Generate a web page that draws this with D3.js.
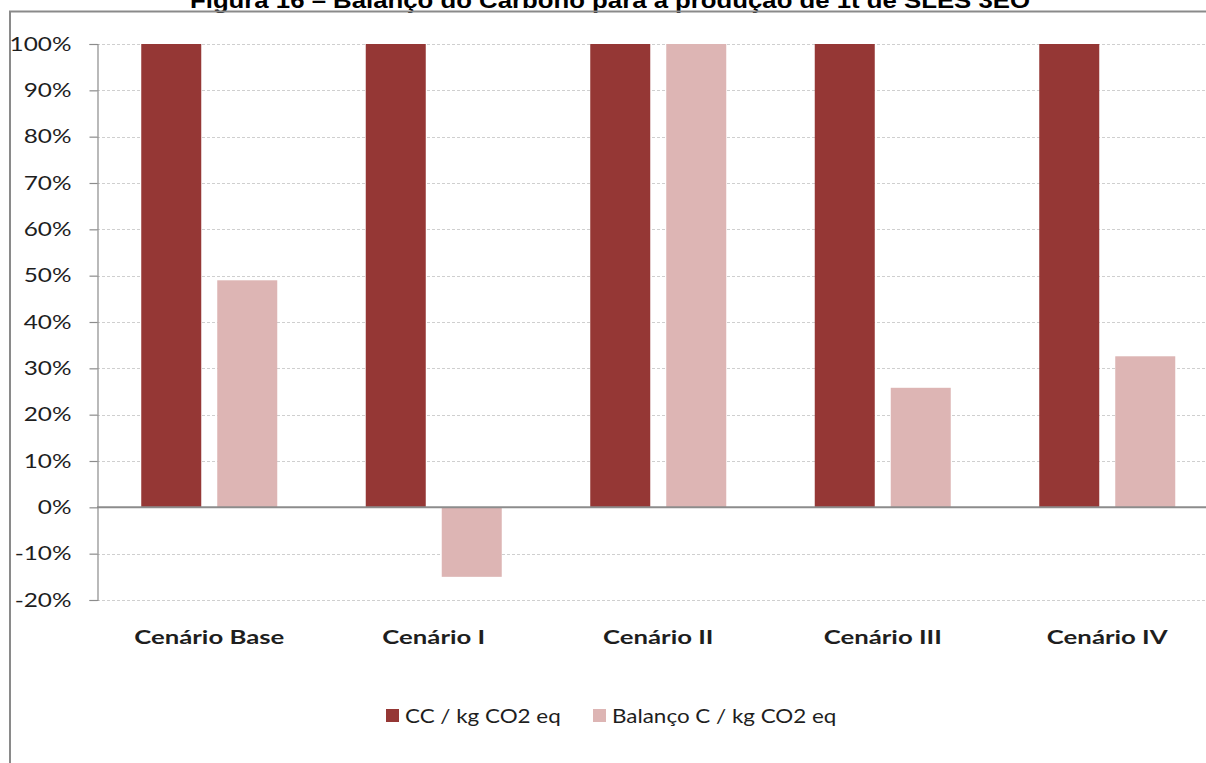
<!DOCTYPE html>
<html>
<head>
<meta charset="utf-8">
<script src="https://cdn.jsdelivr.net/npm/d3@7"></script>
<style>
  html, body { margin: 0; padding: 0; background: #fff; }
  svg { display: block; }
</style>
</head>
<body>
<svg id="chart" width="1206" height="763"></svg>
<script>
// Carbon balance per scenario, as share of the carbon content
const categories = ["Cenário Base", "Cenário I", "Cenário II", "Cenário III", "Cenário IV"];
const seriesNames = ["CC / kg CO2 eq", "Balanço C / kg CO2 eq"];
const ccValues = [100, 100, 100, 100, 100];
const balancoValues = [49, -15, 100, 25.8, 32.6];
const yTicks = [-20, -10, 0, 10, 20, 30, 40, 50, 60, 70, 80, 90, 100];
const colors = ["#953735", "#DDB5B4"];
const titleText = "Figura 16 – Balanço do Carbono para a produção de 1t de SLES 3EO";

const svg = d3.select("#chart");
const font = "Lato, 'Open Sans', sans-serif";
const textColor = "#1e1e1e";

// Page title (mostly above the visible area) and frame
svg.append("text")
  .attr("x", 610).attr("y", 8)
  .attr("text-anchor", "middle")
  .attr("font-family", "Liberation Sans, Arial, sans-serif")
  .attr("font-weight", "bold")
  .attr("font-size", 22)
  .attr("textLength", 840)
  .attr("lengthAdjust", "spacingAndGlyphs")
  .attr("fill", "#000")
  .text(titleText);

svg.append("path")
  .attr("d", "M10,763 V11.5 H1206")
  .attr("fill", "none")
  .attr("stroke", "#8a8a8a")
  .attr("stroke-width", 2);

// Scales
const x0 = d3.scaleBand().domain(categories).range([97, 1219.5]).paddingInner(0).paddingOuter(0);
const y = d3.scaleLinear().domain([-20, 100]).range([600, 44]);

const barW = 60, barGap = 16;
const data = categories.map((c, i) => ({ cat: c, vals: [ccValues[i], balancoValues[i]] }));

// Gridlines
svg.append("g")
  .selectAll("line")
  .data(yTicks.filter(t => t !== 0))
  .join("line")
  .attr("x1", 97).attr("x2", 1206)
  .attr("y1", d => Math.round(y(d)) + 0.5).attr("y2", d => Math.round(y(d)) + 0.5)
  .attr("stroke", "#cfcfcf")
  .attr("stroke-width", 1)
  .attr("stroke-dasharray", "3,2");

// Bars
const groups = svg.append("g").selectAll("g")
  .data(data)
  .join("g")
  .attr("transform", d => `translate(${x0(d.cat) + x0.bandwidth() / 2},0)`);

groups.selectAll("rect")
  .data(d => d.vals.map((v, j) => ({ v, j })))
  .join("rect")
  .attr("x", d => d.j === 0 ? -(barW + barGap / 2) : barGap / 2)
  .attr("width", barW)
  .attr("y", d => y(Math.max(0, d.v)))
  .attr("height", d => Math.abs(y(d.v) - y(0)))
  .attr("fill", d => colors[d.j]);

// Zero line
svg.append("line")
  .attr("x1", 97).attr("x2", 1206)
  .attr("y1", y(0)).attr("y2", y(0))
  .attr("stroke", "#8c8c8c").attr("stroke-width", 2);

// Y axis (labels drawn with a slight horizontal stretch)
const yAxis = d3.axisLeft(y)
  .tickValues(yTicks)
  .tickFormat(d => d + "%")
  .tickSize(8)
  .tickPadding(0);

const ya = svg.append("g")
  .attr("transform", "translate(97.5,0)")
  .call(yAxis);
ya.select(".domain").attr("stroke", "#8c8c8c").attr("stroke-width", 1.2);
ya.selectAll(".tick line").attr("stroke", "#8c8c8c").attr("stroke-width", 1.2);
ya.selectAll(".tick text")
  .attr("x", 0)
  .attr("transform", "translate(-26,0) scale(1.25,1)")
  .attr("font-family", font)
  .attr("font-size", 19.5)
  .attr("fill", textColor);

// X category labels
const xAxis = d3.axisBottom(x0).tickSize(0).tickPadding(0);
const xa = svg.append("g")
  .attr("transform", "translate(0,626)")
  .call(xAxis);
xa.select(".domain").remove();
xa.selectAll(".tick text")
  .attr("transform", "scale(1.32,1)")
  .attr("font-family", font)
  .attr("font-weight", "bold")
  .attr("font-size", 19.5)
  .attr("fill", textColor)
  .attr("dy", "0.9em");

// Legend
const legendX = [386, 593];
const legend = svg.append("g").selectAll("g")
  .data(seriesNames)
  .join("g")
  .attr("transform", (d, i) => `translate(${legendX[i]},709)`);
legend.append("rect")
  .attr("width", 13).attr("height", 13)
  .attr("fill", (d, i) => colors[i]);
legend.append("text")
  .attr("transform", "translate(19,14) scale(1.15,1)")
  .attr("font-family", font)
  .attr("font-size", 19.5)
  .attr("fill", textColor)
  .text(d => d);
</script>
</body>
</html>
